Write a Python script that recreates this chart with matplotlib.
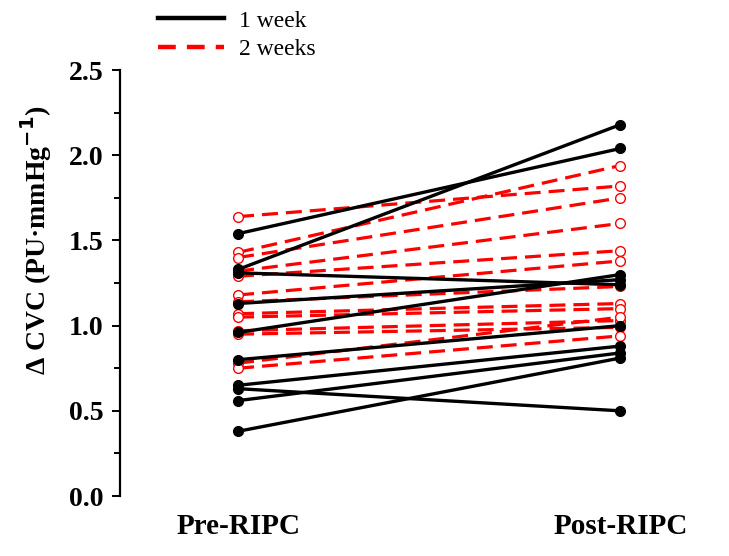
import matplotlib
matplotlib.use("Agg")
import matplotlib.pyplot as plt
from matplotlib.lines import Line2D
from matplotlib.ticker import MultipleLocator

plt.rcParams['font.family'] = ['Liberation Serif', 'DejaVu Serif']

groups = ['Pre-RIPC', 'Post-RIPC']

# 1 week (filled black)
week1_pre = [1.54, 1.33, 1.31, 1.13, 0.96, 0.80, 0.65, 0.63, 0.56, 0.38]
week1_post = [2.04, 2.18, 1.24, 1.27, 1.30, 1.00, 0.88, 0.50, 0.84, 0.81]

# 2 weeks (open red)
week2_pre = [1.64, 1.43, 1.40, 1.32, 1.29, 1.18, 1.14, 1.07, 1.05, 0.97, 0.95, 0.78, 0.75]
week2_post = [1.82, 1.94, 1.75, 1.60, 1.44, 1.38, 1.23, 1.13, 1.10, 1.03, 0.99, 1.05, 0.94]

fig = plt.figure(figsize=(7.29, 5.56), dpi=100)
ax = fig.add_axes([0.1646, 0.1079, 0.796, 0.766])

xs = [0, 1]
for a, b in zip(week2_pre, week2_post):
    ax.plot(xs, [a, b], color='red', lw=2.3, ls=(0, (5, 2.5)),
            marker='o', ms=7, mfc='white', mec='red', mew=1.0, zorder=2)
for a, b in zip(week1_pre, week1_post):
    ax.plot(xs, [a, b], color='black', lw=2.4, ls='-',
            marker='o', ms=7, mfc='black', mec='black', zorder=3)

ax.set_xlim(-0.309, 1.209)
ax.set_ylim(0, 2.5)
ax.set_xticks(xs)
ax.set_xticklabels(groups, fontsize=21, fontweight='bold')
ax.tick_params(axis='x', length=0, pad=12)
ax.yaxis.set_minor_locator(MultipleLocator(0.25))
ax.set_yticks([0, 0.5, 1.0, 1.5, 2.0, 2.5])
ax.set_yticklabels(['0.0', '0.5', '1.0', '1.5', '2.0', '2.5'], fontsize=20, fontweight='bold')
ax.tick_params(axis='y', which='major', length=6, width=1.4, direction='out', pad=6)
ax.tick_params(axis='y', which='minor', length=4, width=1.4, direction='out')

for s in ['top', 'right', 'bottom']:
    ax.spines[s].set_visible(False)
ax.spines['left'].set_linewidth(1.6)

ax.set_ylabel('\u0394 CVC (PU\u00b7mmHg$^{\\mathbf{-1}}$)', fontsize=20, fontweight='bold')
ax.yaxis.set_label_coords(-0.114, 0.60)

handles = [Line2D([], [], color='black', lw=3.2),
           Line2D([], [], color='red', lw=3.2, ls=(0, (4, 2.5)))]
fig.legend(handles, ['1 week', '2 weeks'], loc='upper left',
           bbox_to_anchor=(0.188, 1.02), frameon=False, fontsize=17,
           handlelength=2.8, handletextpad=0.6, labelspacing=0.3)

fig.savefig('out.png', dpi=100)
